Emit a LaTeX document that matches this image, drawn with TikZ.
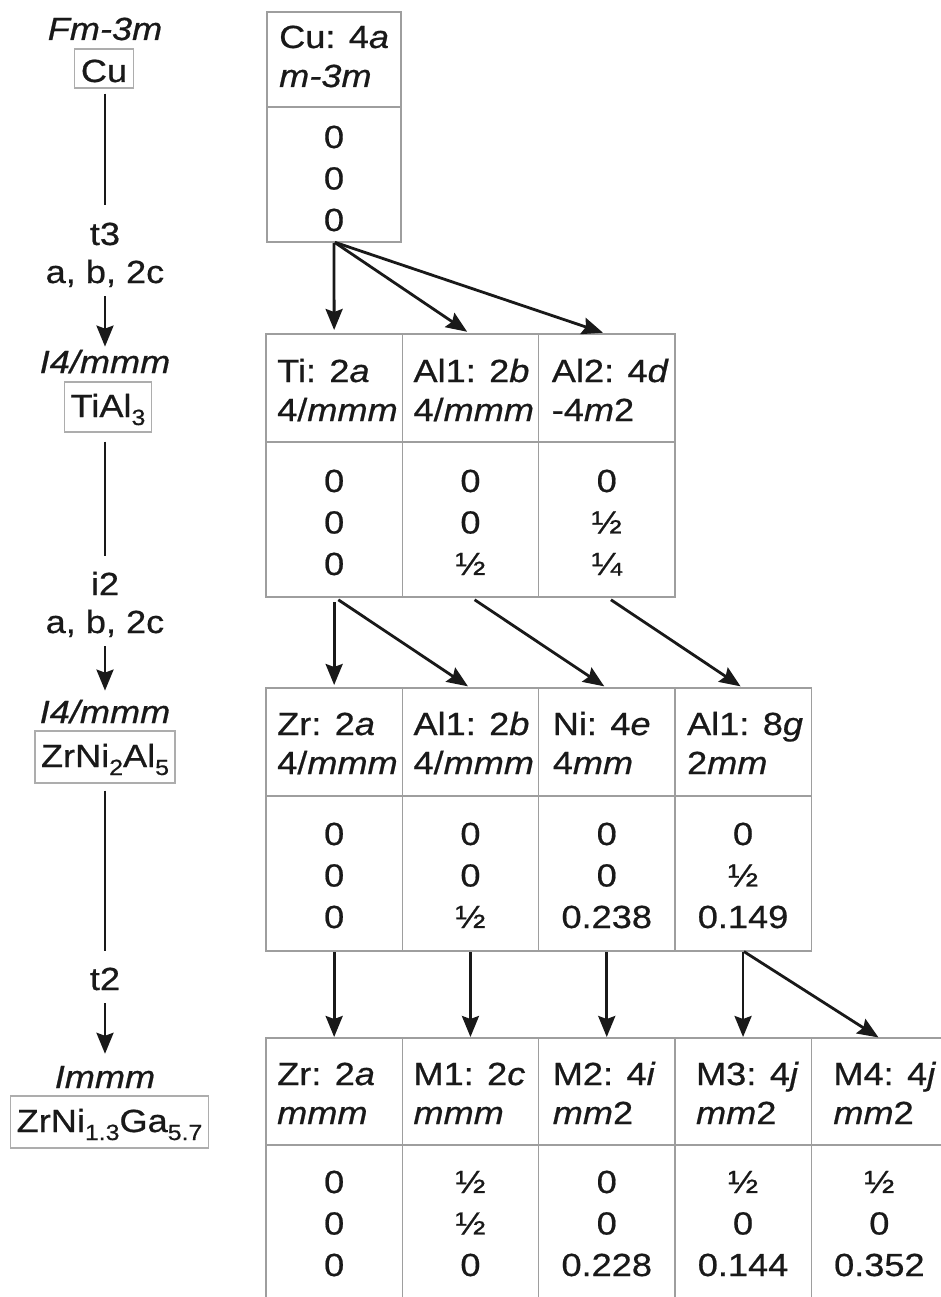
\documentclass[tikz,border=0pt]{standalone}
\usepackage{fontspec}
\setmainfont{Liberation Sans}[FakeStretch=1.13, FakeBold=0.6]
\usetikzlibrary{arrows.meta}
\definecolor{cellline}{gray}{0.62}
\definecolor{boxline}{gray}{0.68}
\definecolor{ink}{gray}{0.1}
\newcommand\subs[1]{\raisebox{-8pt}{\fontsize{22}{22}\selectfont #1}}
% #1 name, #2 x, #3 y, #4 inset, #5 line1, #6 line2, #7 d1, #8 d2, #9 d3
\newcommand\sitecell[9]{%
  \node[cellbox, anchor=north west, minimum height=\hdrH] (#1h) at (#2,#3) {};
  \node[cellbox, anchor=north west, minimum height=\datH] (#1) at (#1h.south west) {};
  \node[txt, anchor=base west] (#1ha) at ([xshift=#4pt, yshift=-\hdrOff]#1h.north west) {#5};
  \node[txt, anchor=base west] (#1hb) at ([xshift=#4pt, yshift=-\hdrOff-39pt]#1h.north west) {#6};
  \node[txt, anchor=base] (#1da) at ([yshift=-\datOff]#1.north) {#7};
  \node[txt, anchor=base] (#1db) at ([yshift=-\datOff-41.5pt]#1.north) {#8};
  \node[txt, anchor=base] (#1dc) at ([yshift=-\datOff-83pt]#1.north) {#9};
}
\begin{document}
\begin{tikzpicture}[x=1pt,y=-1pt,
  txt/.style={font=\fontsize{32}{38}\selectfont, inner sep=0pt, text=ink},
  lbox/.style={draw=boxline, line width=1.2pt, inner xsep=6pt, inner ysep=0pt},
  cellbox/.style={draw=cellline, line width=1.3pt, minimum width=\cellW, inner sep=0pt, outer sep=0pt},
  vline/.style={draw=ink, line width=2.8pt},
  arr/.style={draw=ink, line width=2.8pt, -{Stealth[length=21pt,width=17pt,inset=3pt]}}]
\path[fill=white, use as bounding box] (0,0) rectangle (940,1297);

% ---------- left column ----------
\node[txt, anchor=base] (sg1) at (105,40) {\textit{Fm-3m}};
\node[txt, lbox, anchor=base, text height=33pt, text depth=6pt] (cu) at (104,82) {Cu};
\node[txt, anchor=base] (t3) at (105,245) {t3};
\node[txt, anchor=base] (t3b) at (105,283) {a, b, 2c};
\node[txt, anchor=base] (sg2) at (105,373) {\textit{I4/mmm}};
\node[txt, lbox, anchor=base, text height=35pt, text depth=15pt] (tial) at (108,417) {TiAl\subs{3}};
\node[txt, anchor=base] (i2) at (105,595) {i2};
\node[txt, anchor=base] (i2b) at (105,633) {a, b, 2c};
\node[txt, anchor=base] (sg3) at (105,723) {\textit{I4/mmm}};
\node[txt, lbox, anchor=base, text height=36pt, text depth=16pt] (zna) at (105,767) {ZrNi\subs{2}Al\subs{5}};
\node[txt, anchor=base] (t2) at (105,990) {t2};
\node[txt, anchor=base] (sg4) at (105,1088) {\textit{Immm}};
\node[txt, lbox, anchor=base, text height=36pt, text depth=16pt] (zng) at (109.5,1132) {ZrNi\subs{1.3}Ga\subs{5.7}};

\draw[vline, shorten <=5pt, shorten >=17pt] (t3.north |- cu.south) -- (t3.north);
\draw[arr, shorten <=9pt, shorten >=3pt] (t3b.south) -- (sg2.north);
\draw[vline, shorten <=9pt, shorten >=16pt] (i2.north |- tial.south) -- (i2.north);
\draw[arr, shorten <=9pt, shorten >=9pt] (i2b.south) -- (sg3.north);
\draw[vline, shorten <=7pt, shorten >=16pt] (t2.north |- zna.south) -- (t2.north);
\draw[arr, shorten <=13pt, shorten >=12pt] (t2.south) -- (sg4.north);

% ---------- table 1 ----------
\def\cellW{134pt}\def\hdrH{95pt}\def\datH{135pt}\def\hdrOff{36pt}\def\datOff{41pt}
\sitecell{c1}{267}{12}{12}{Cu: 4\textit{a}}{\textit{m-3m}}{0}{0}{0}

% ---------- table 2 ----------
\def\cellW{136.3pt}\def\hdrH{108pt}\def\datH{155pt}\def\hdrOff{48pt}\def\datOff{50pt}
\sitecell{c2a}{266}{334}{11}{Ti: 2\textit{a}}{4/\textit{mmm}}{0}{0}{0}
\sitecell{c2b}{402.3}{334}{11}{Al1: 2\textit{b}}{4/\textit{mmm}}{0}{0}{½}
\sitecell{c2c}{538.6}{334}{13}{Al2: 4\textit{d}}{-4\textit{m}2}{0}{½}{¼}

% ---------- table 3 ----------
\def\hdrOff{47pt}\def\datOff{49pt}
\sitecell{c3a}{266}{688}{11}{Zr: 2\textit{a}}{4/\textit{mmm}}{0}{0}{0}
\sitecell{c3b}{402.3}{688}{11}{Al1: 2\textit{b}}{4/\textit{mmm}}{0}{0}{½}
\sitecell{c3c}{538.6}{688}{14}{Ni: 4\textit{e}}{4\textit{mm}}{0}{0}{0.238}
\sitecell{c3d}{674.9}{688}{12}{Al1: 8\textit{g}}{2\textit{mm}}{0}{½}{0.149}

% ---------- table 4 ----------
\def\hdrH{107pt}\def\hdrOff{47pt}\def\datOff{48pt}
\sitecell{c4a}{266}{1038}{11}{Zr: 2\textit{a}}{\textit{mmm}}{0}{0}{0}
\sitecell{c4b}{402.3}{1038}{11}{M1: 2\textit{c}}{\textit{mmm}}{½}{½}{0}
\sitecell{c4c}{538.6}{1038}{14}{M2: 4\textit{i}}{\textit{mm}2}{0}{0}{0.228}
\sitecell{c4d}{674.9}{1038}{21}{M3: 4\textit{j}}{\textit{mm}2}{½}{0}{0.144}
\sitecell{c4e}{811.2}{1038}{22}{M4: 4\textit{j}}{\textit{mm}2}{½}{0}{0.352}

% ---------- arrows ----------
\draw[arr, shorten <=1pt, shorten >=4pt] (c1.south) -- (c2ah.north);
\draw[arr, shorten <=1pt, shorten >=4pt] (c1.south) -- (c2bh.north);
\draw[arr, shorten <=1pt, shorten >=4pt] (c1.south) -- (c2ch.north);

\draw[arr, shorten <=5pt, shorten >=3pt] (c2a.south) -- (c3ah.north);
\draw[arr, shorten <=5pt, shorten >=3pt] (c2a.south) -- (c3bh.north);
\draw[arr, shorten <=5pt, shorten >=3pt] (c2b.south) -- (c3ch.north);
\draw[arr, shorten <=5pt, shorten >=3pt] (c2c.south) -- (c3dh.north);

\draw[arr, shorten <=1pt, shorten >=1pt] (c3a.south) -- (c4ah.north);
\draw[arr, shorten <=1pt, shorten >=1pt] (c3b.south) -- (c4bh.north);
\draw[arr, shorten <=1pt, shorten >=1pt] (c3c.south) -- (c4ch.north);
\draw[arr, shorten <=1pt, shorten >=1pt] (c3d.south) -- (c4dh.north);
\draw[arr, shorten <=1pt, shorten >=1pt] (c3d.south) -- (c4eh.north);
\end{tikzpicture}
\end{document}
